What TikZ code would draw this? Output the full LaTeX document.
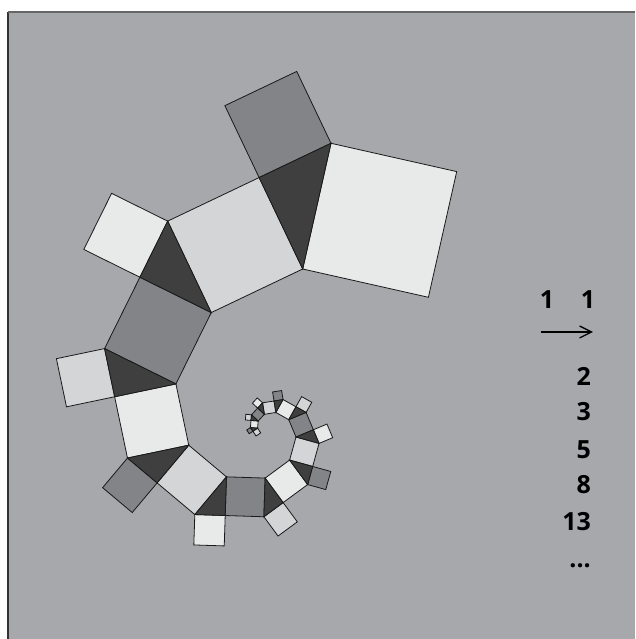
\documentclass[tikz,border=0pt]{standalone}
\usepackage{fontspec}
\setmainfont{Open Sans}
\usetikzlibrary{calc,arrows.meta}
\definecolor{bg}{HTML}{A7A8AC}
\definecolor{c0}{HTML}{E8E9E9}
\definecolor{c1}{HTML}{D4D5D7}
\definecolor{c2}{HTML}{838488}
\definecolor{dk}{HTML}{3F3F40}
\tikzset{
  sq/.style={draw=black!90, line width=0.8pt, line join=miter},
  tri/.style={draw=black!90, fill=dk, line width=0.8pt},
  num/.style={anchor=east, font=\fontsize{25}{30}\selectfont\bfseries, inner sep=0pt}
}
\begin{document}
\begin{tikzpicture}[x=1pt,y=1pt]
\useasboundingbox (0,0) rectangle (635,639);
\fill[white] (0,0) rectangle (635,639);
\fill[bg] (8,0) rectangle (635,627);
\draw[line width=2pt, draw=black!80] (8,0) -- (8,627);
\draw[line width=2pt, draw=black!60] (8,627) -- (635,627);
% spiral
\coordinate (Q1) at (331,495.7);
\coordinate (R1) at (302.7,370);
\coordinate (H1) at ($(Q1)!1!90:(R1)$);
\coordinate (H2) at ($(R1)!1!-90:(Q1)$);
\draw[sq, fill=c0] (Q1) -- (R1) -- (H2) -- (H1) -- cycle;
\foreach \i in {1,...,13}{
  \pgfmathtruncatemacro\j{\i+1}
  \pgfmathtruncatemacro\cl{mod(\i,3)}
  \pgfmathtruncatemacro\cs{mod(\i+1,3)}
  \coordinate (P\i) at ($(Q\i)!0.618034!-51.827:(R\i)$);
  \coordinate (Q\j) at ($(P\i)!1!-90:(R\i)$);
  \coordinate (R\j) at ($(R\i)!1!90:(P\i)$);
  \coordinate (S\i) at ($(P\i)!1!90:(Q\i)$);
  \coordinate (T\i) at ($(Q\i)!1!-90:(P\i)$);
  \draw[sq, fill=c\cl] (P\i) -- (R\i) -- (R\j) -- (Q\j) -- cycle;
  \draw[sq, fill=c\cs] (P\i) -- (Q\i) -- (T\i) -- (S\i) -- cycle;
  \draw[tri] (P\i) -- (Q\i) -- (R\i) -- cycle;
}
% text
\node[num, anchor=center] (oneA) at (547,339) {1};
\node[num, anchor=center] (oneB) at (588,339) {1};
\coordinate (arS) at (541,307);
\coordinate (arE) at (593,307);
\draw[line width=1.3pt, -{Straight Barb[length=12pt,width=12pt,line width=1.3pt]}] (arS) -- (arE);
\node[num] (n2) at (591,262.3) {2};
\node[num] (n3) at (591,227.3) {3};
\node[num] (n5) at (591,189) {5};
\node[num] (n8) at (591,154) {8};
\node[num] (n13) at (591,117.3) {13};
\node[num, anchor=base east] (dots) at (591,71) {...};
\end{tikzpicture}
\end{document}
